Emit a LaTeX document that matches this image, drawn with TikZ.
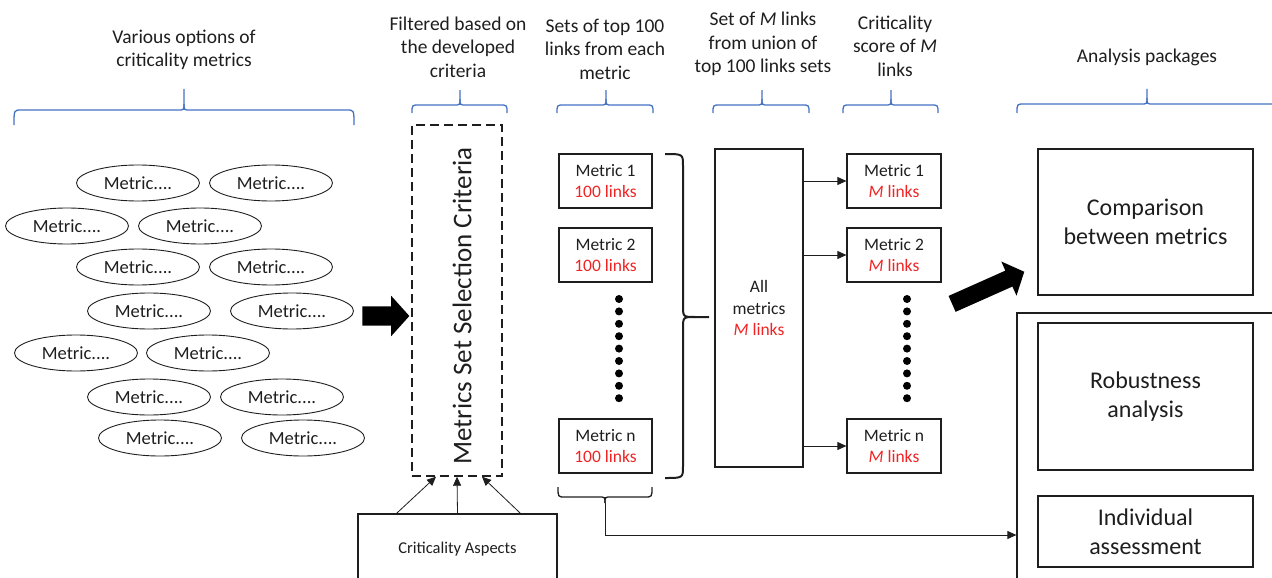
\documentclass[tikz,border=0pt]{standalone}
\usepackage{fontspec}
\setmainfont{Carlito}
\usetikzlibrary{arrows.meta,shapes.geometric,shapes.arrows}
\definecolor{bblue}{HTML}{4472C4}
\definecolor{lred}{HTML}{F02424}
\definecolor{ink}{HTML}{1E1E1E}
\newcommand\topbrace[6]{%
  \draw[brace] (#1,#4) .. controls (#1,#5) .. (#1+7,#5) -- (#3-6,#5) .. controls (#3,#5) .. (#3,#5-6) -- (#3,#6);
  \draw[brace] (#3,#5-6) .. controls (#3,#5) .. (#3+6,#5) -- (#2-7,#5) .. controls (#2,#5) .. (#2,#4);}
\begin{document}
\begin{tikzpicture}[x=1pt,y=-1pt,
  every node/.style={text=ink},
  lbl/.style={align=center, inner sep=0, font=\fontsize{19.5}{23.5}\selectfont},
  brace/.style={draw=bblue, line width=1.3pt},
  bbrace/.style={draw=ink, line width=1.3pt},
  met/.style={draw=ink, ellipse, line width=0.9pt, minimum width=123, minimum height=36, inner sep=0, font=\fontsize{18.5}{22}\selectfont},
  mbox/.style={draw=ink, line width=1.2pt, minimum width=93, minimum height=54, inner sep=0, align=center, font=\fontsize{17.5}{21}\selectfont},
  bigbox/.style={draw=ink, line width=1.2pt, inner sep=0, align=center, font=\fontsize{24}{29}\selectfont},
  conn/.style={draw=ink, -{Triangle[length=9pt,width=8pt]}, line width=0.8pt},
  blockarrow/.style={single arrow, fill=black, draw=none, inner xsep=0, single arrow tip angle=96},
  red/.style={text=lred}
]
\clip (0,0) rectangle (1272,578);

% top labels
\node[lbl] (l1) at (184,50) {Various options of\\criticality metrics};
\node[lbl] (l2) at (458,47) {Filtered based on\\the developed\\criteria};
\node[lbl] (l3) at (605,49) {Sets of top 100\\links from each\\metric};
\node[lbl] (l4) at (763,44) {Set of \textit{M} links\\from union of\\top 100 links sets};
\node[lbl] (l5) at (895,46) {Criticality\\score of \textit{M}\\links};
\node[lbl] (l6) at (1147,57) {Analysis packages};

% blue braces
\topbrace{14}{354}{184}{125}{110}{89}
\topbrace{412}{507}{460}{113}{105}{90}
\topbrace{557}{653}{606}{113}{105}{90}
\topbrace{713}{809}{762}{113}{105}{90}
\topbrace{843}{938}{891}{113}{105}{90}
\topbrace{1017}{1290}{1147}{113}{104}{89}

% ellipses
\node[met] (e1) at (138,183) {Metric....};
\node[met] (e2) at (271,183) {Metric....};
\node[met] (e3) at (67,226) {Metric....};
\node[met] (e4) at (200,226) {Metric....};
\node[met] (e5) at (138,267) {Metric....};
\node[met] (e6) at (271,267) {Metric....};
\node[met] (e7) at (149,311) {Metric....};
\node[met] (e8) at (292,311) {Metric....};
\node[met] (e9) at (76,353) {Metric....};
\node[met] (e10) at (208,353) {Metric....};
\node[met] (e11) at (149,397) {Metric....};
\node[met] (e12) at (282,397) {Metric....};
\node[met] (e13) at (160,438) {Metric....};
\node[met] (e14) at (303,438) {Metric....};

% block arrow 1
\node[blockarrow, inner ysep=9.5pt, single arrow head extend=10.5pt, minimum height=47] (ba1) at (381.5,316) {};

% dashed box
\node[draw=ink, line width=1.4pt, dash pattern=on 9pt off 5pt, minimum width=90, minimum height=351, inner sep=0] (dsc) at (457,300.5) {};
\node[rotate=90, inner sep=0, font=\fontsize{27}{32}\selectfont] (dsct) at (462,306) {Metrics Set Selection Criteria};

% criticality aspects
\node[draw=ink, line width=1.2pt, minimum width=199, minimum height=70, inner sep=0, font=\fontsize{16.5}{20}\selectfont] (asp) at (457.5,549) {Criticality Aspects};
\draw[conn] ([xshift=-61]asp.north) -- ([xshift=-21]dsc.south);
\draw[conn] (asp.north) -- (dsc.south);
\draw[conn] ([xshift=63]asp.north) -- ([xshift=25]dsc.south);

% left metric boxes
\node[mbox] (m1) at (605.5,181) {Metric 1\\\textcolor{lred}{100 links}};
\node[mbox] (m2) at (605.5,255) {Metric 2\\\textcolor{lred}{100 links}};
\node[mbox] (mn) at (605.5,446) {Metric n\\\textcolor{lred}{100 links}};
\foreach \i in {0,...,8} \fill[black] (619,299+\i*12.4) circle (4);

% right curly brace
\draw[ink, line width=2pt] (665,154) .. controls (683,154) .. (683,166) -- (683,305) .. controls (683,317) .. (695,317) -- (709,317);
\draw[ink, line width=2pt] (695,317) .. controls (683,317) .. (683,329) -- (683,466) .. controls (683,478) .. (665,478);

% all metrics
\node[draw=ink, line width=1.2pt, minimum width=88, minimum height=318, inner sep=0, align=center, font=\fontsize{17.5}{21.5}\selectfont] (all) at (759,308) {All\\metrics\\\textcolor{lred}{\textit{M} links}};

% right metric boxes
\node[mbox, minimum width=94] (r1) at (894,181) {Metric 1\\\textcolor{lred}{\textit{M} links}};
\node[mbox, minimum width=94] (r2) at (894,255) {Metric 2\\\textcolor{lred}{\textit{M} links}};
\node[mbox, minimum width=94] (rn) at (894,446) {Metric n\\\textcolor{lred}{\textit{M} links}};
\foreach \i in {0,...,8} \fill[black] (907,299+\i*12.4) circle (4);
\draw[conn] (all.east |- r1.west) -- (r1.west);
\draw[conn] (all.east |- r2.west) -- (r2.west);
\draw[conn] (all.east |- rn.west) -- (rn.west);

% block arrow 2
\node[blockarrow, inner ysep=8.5pt, single arrow head extend=10pt, minimum height=79, rotate=24] (ba2) at (984.6,289.4) {};

% analysis packages
\node[bigbox, minimum width=215, minimum height=146] (cmp) at (1145.5,222) {Comparison\\between metrics};
\node[draw=ink, line width=1.2pt, minimum width=283, minimum height=287, inner sep=0] (frame) at (1158.5,456.5) {};
\node[bigbox, minimum width=215, minimum height=147] (rob) at (1145.5,396.5) {Robustness\\analysis};
\node[bigbox, minimum width=215, minimum height=71] (ind) at (1145.5,531.5) {Individual\\assessment};

% bottom bracket and arrow
\draw[bbrace] (558,487) .. controls (558,497) .. (565,497) -- (599,497) .. controls (605,497) .. (605,503);
\draw[bbrace] (605,503) .. controls (605,497) .. (611,497) -- (645,497) .. controls (652,497) .. (652,487);
\coordinate (btip) at (605,503);
\coordinate (bend) at (605,535);
\draw[conn] (btip) -- (bend) -- (bend -| frame.west);
\end{tikzpicture}
\end{document}
